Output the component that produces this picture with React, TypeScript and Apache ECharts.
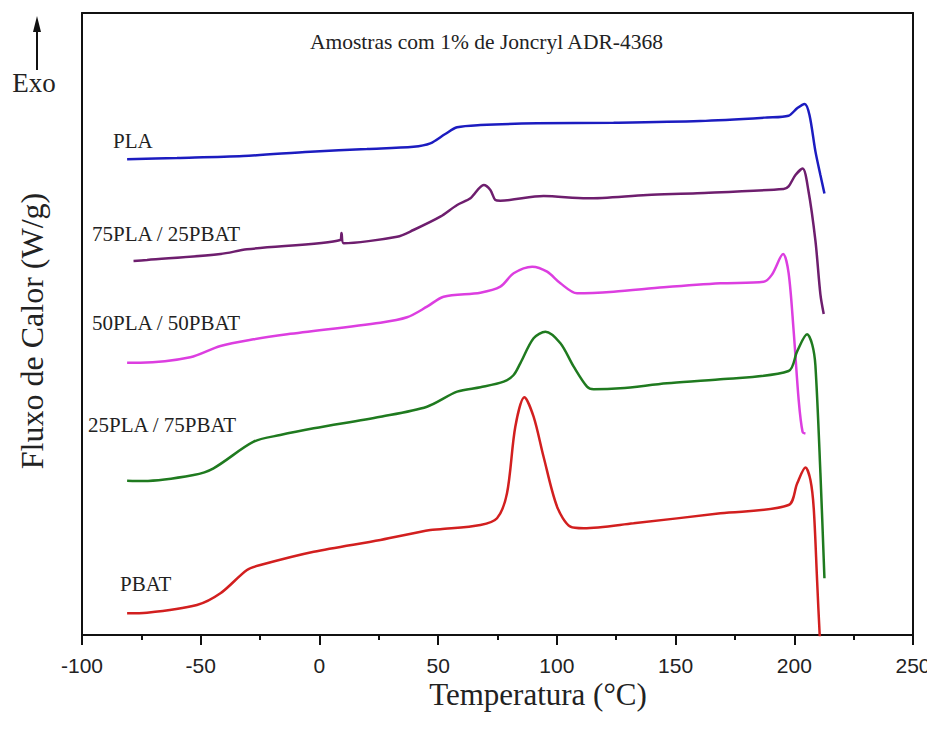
import React, { useEffect, useRef } from "react";
import * as echarts from "echarts";

// Temperature (°C) vs heat flow (arbitrary, stacked curves)
const seriesNames = ["PLA", "75PLA / 25PBAT", "50PLA / 50PBAT", "25PLA / 75PBAT", "PBAT"];
const seriesColors = ["#1c1cc0", "#6e1e6e", "#dc3ee0", "#1f7a1f", "#d21f1f"];

const pla: number[][] = [
  [-81, 475.7], [-60, 477], [-32.1, 479], [-3.8, 483.3], [20, 486], [39.6, 488.3], [46.7, 491.7],
  [53, 501], [58, 507.7], [67.8, 510], [91.7, 511.7], [123.9, 512.3], [160.4, 514],
  [188.5, 517.5], [197.6, 519.3], [201.3, 527], [204.4, 531.1], [206.4, 520], [208.9, 483.6],
  [211, 460], [212.7, 441.4],
];

const pla75: number[][] = [
  [-78.3, 374], [-72.6, 375], [-41.7, 381], [-30.5, 385.7], [8.8, 395], [9.3, 402], [10.2, 391.7],
  [32.7, 398.3], [39.6, 405], [50.9, 418.3], [58, 430], [63.6, 436.7], [69.2, 450], [72, 445],
  [74.1, 435], [76.2, 434.3], [94.4, 439], [112.7, 436.7], [138, 440], [159.1, 441.7],
  [195.5, 446], [197.6, 448.6], [200.5, 460], [203.5, 466.4], [205.9, 445], [208.9, 394.3],
  [211, 340.7], [212.4, 321],
];

const pla50: number[][] = [
  [-81, 272.3], [-75.4, 272.3], [-54.4, 277.7], [-41.7, 289], [-27.7, 295.7], [-13.6, 300.7],
  [25.7, 312.3], [36.9, 317.7], [45.3, 328.3], [52.3, 338.3], [67.8, 342.3], [76.2, 348.3],
  [81.8, 361.7], [89.6, 368.3], [95.9, 363.3], [101.5, 351.7], [108.5, 341.7], [123.9, 343.3],
  [145, 347.7], [168.9, 351.7], [187.1, 353.2], [190.6, 360.4], [195.3, 381], [197.6, 362.1],
  [199.7, 305], [201.9, 233.6], [203.5, 203], [204.7, 201.4],
];

const pla25: number[][] = [
  [-81, 154.3], [-74.1, 154], [-53, 160], [-44.6, 166.7], [-27.7, 193.3], [-16.5, 200],
  [-2.4, 206.7], [25.7, 218.3], [45.3, 228.3], [58, 243.3], [67.8, 247.7], [77.6, 253.3],
  [81.8, 260], [84.6, 271.7], [90.2, 296.7], [95.2, 303.3], [101.5, 291.7], [107.1, 268.3],
  [112.7, 248.3], [115.5, 245.7], [126.7, 246.7], [146.4, 251.7], [168.9, 255.7], [197.6, 264],
  [201.2, 283.6], [205.4, 300.7], [207.6, 290], [208.9, 269.3], [211, 162.1], [212.7, 56.8],
];

const pbat: number[][] = [
  [-81, 21.7], [-72.6, 22.3], [-51.6, 30], [-41.7, 41.7], [-30.5, 65], [-24.9, 70], [-2.4, 83.3],
  [25.7, 95], [46.7, 105], [50.9, 105.7], [67.8, 110], [74.8, 116.7], [79, 141.7], [82.5, 208.3],
  [86.3, 237.7], [90.2, 218.3], [94.4, 178.3], [100.1, 128.3], [105.7, 108.3], [111.3, 106.7],
  [132.3, 111.7], [168.9, 121.7], [197.6, 130], [201.2, 151.4], [204.7, 167.5], [206.8, 155],
  [208.2, 126.4], [209.6, 55], [210.7, 0], [211, -5],
];

const allSeries = [pla, pla75, pla50, pla25, pbat];

const labelPositions = [
  { x: 113, y: 141 },
  { x: 92, y: 234 },
  { x: 92, y: 323 },
  { x: 88, y: 425 },
  { x: 120, y: 584 },
];

export default function App() {
  const ref = useRef<HTMLDivElement>(null);
  useEffect(() => {
    if (!ref.current) return;
    const chart = echarts.init(ref.current, null, { renderer: "svg" });
    const serif = "Liberation Serif";
    const axisLineStyle = { color: "#111", width: 2 };
    chart.setOption({
      animation: false,
      backgroundColor: "#fff",
      grid: { left: 82, right: 22, top: 13, bottom: 99, containLabel: false },
      xAxis: [
        {
          type: "value",
          min: -100,
          max: 250,
          interval: 50,
          position: "bottom",
          axisLine: { show: true, onZero: false, lineStyle: axisLineStyle },
          axisTick: { show: true, inside: false, length: 10, lineStyle: { color: "#111", width: 2 } },
          minorTick: { show: true, splitNumber: 2, length: 5, lineStyle: { color: "#111", width: 2 } },
          axisLabel: { fontFamily: "Liberation Sans", fontSize: 21, color: "#222", margin: 20 },
          splitLine: { show: false },
        },
        {
          type: "value",
          min: -100,
          max: 250,
          position: "top",
          axisLine: { show: true, onZero: false, lineStyle: axisLineStyle },
          axisTick: { show: false },
          axisLabel: { show: false },
          splitLine: { show: false },
        },
      ],
      yAxis: [
        {
          type: "value",
          min: 0,
          max: 622,
          position: "left",
          axisLine: { show: true, onZero: false, lineStyle: axisLineStyle },
          axisTick: { show: false },
          axisLabel: { show: false },
          splitLine: { show: false },
        },
        {
          type: "value",
          min: 0,
          max: 622,
          position: "right",
          axisLine: { show: true, onZero: false, lineStyle: axisLineStyle },
          axisTick: { show: false },
          axisLabel: { show: false },
          splitLine: { show: false },
        },
      ],
      series: allSeries.map((d, i) => ({
        name: seriesNames[i],
        type: "line",
        data: d,
        xAxisIndex: 0,
        yAxisIndex: 0,
        showSymbol: false,
        smooth: 0.3,
        clip: true,
        lineStyle: { color: seriesColors[i], width: 2.5 },
        itemStyle: { color: seriesColors[i] },
      })),
      graphic: [
        ...seriesNames.map((n, i) => ({
          type: "text",
          x: labelPositions[i].x,
          y: labelPositions[i].y,
          style: { text: n, fontFamily: serif, fontSize: 21, fill: "#222", textVerticalAlign: "middle" },
        })),
        {
          type: "text",
          x: 310,
          y: 42,
          style: {
            text: "Amostras com 1% de Joncryl ADR-4368",
            fontFamily: serif,
            fontSize: 21.5,
            fill: "#222",
            textVerticalAlign: "middle",
          },
        },
        {
          type: "text",
          x: 538,
          y: 694,
          style: {
            text: "Temperatura (°C)",
            fontFamily: serif,
            fontSize: 31,
            fill: "#222",
            textAlign: "center",
            textVerticalAlign: "middle",
          },
        },
        {
          type: "text",
          x: 32,
          y: 331,
          rotation: Math.PI / 2,
          style: {
            text: "Fluxo de Calor (W/g)",
            fontFamily: serif,
            fontSize: 32,
            fill: "#222",
            textAlign: "center",
            textVerticalAlign: "middle",
          },
        },
        {
          type: "text",
          x: 34,
          y: 83,
          style: {
            text: "Exo",
            fontFamily: serif,
            fontSize: 27,
            fill: "#222",
            textAlign: "center",
            textVerticalAlign: "middle",
          },
        },
        {
          type: "line",
          shape: { x1: 37, y1: 70, x2: 37, y2: 28 },
          style: { stroke: "#111", lineWidth: 2 },
        },
        {
          type: "polygon",
          shape: { points: [[37, 16], [33, 32], [41, 32]] },
          style: { fill: "#111" },
        },
      ],
    });
    return () => chart.dispose();
  }, []);
  return <div ref={ref} style={{ width: 935, height: 734, margin: -8 }} />;
}
